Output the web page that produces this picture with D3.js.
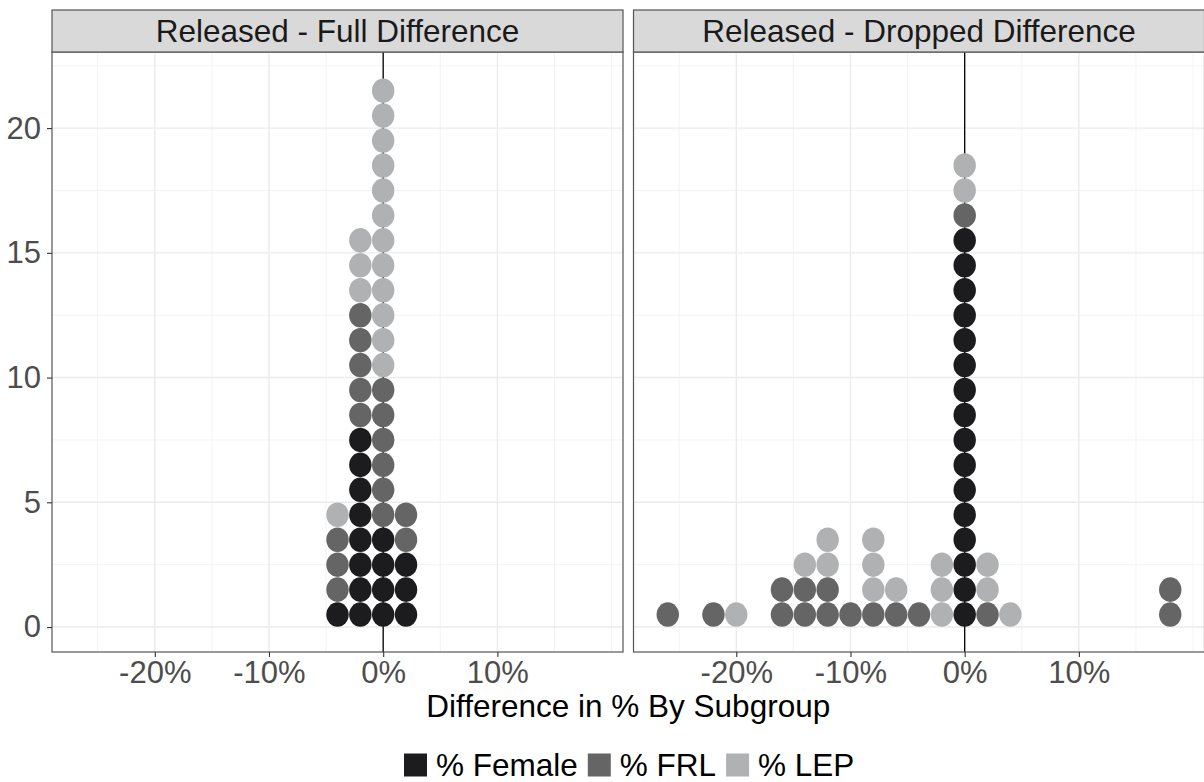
<!DOCTYPE html>
<html lang="en">
<head>
  <meta charset="UTF-8">
  <title>Released difference dot plot</title>
  <script src="https://d3js.org/d3.v7.min.js"></script>
  <style>
    body { margin: 0; background: #fff; }
    svg { display: block; font-family: "Liberation Sans", Arial, sans-serif; }
  </style>
</head>
<body>
<svg id="chart"></svg>
<script>
  const width = 1204;
  const height = 782;

  // facets and groups
  const panelTitles = ["Released - Full Difference", "Released - Dropped Difference"];
  const groups = ["% Female", "% FRL", "% LEP"];
  const groupColors = ["#1c1c1e", "#656566", "#b0b1b2"];

  // differences (in proportions) for each subgroup, one value per dot
  const fullFemale = [-0.04, -0.02, -0.02, -0.02, -0.02, -0.02, -0.02, -0.02, -0.02, 0, 0, 0, 0, 0.02, 0.02, 0.02];
  const fullFrl = [-0.04, -0.04, -0.04, -0.02, -0.02, -0.02, -0.02, -0.02, 0, 0, 0, 0, 0, 0, 0.02, 0.02];
  const fullLep = [-0.04, -0.02, -0.02, -0.02, 0, 0, 0, 0, 0, 0, 0, 0, 0, 0, 0, 0];

  const droppedFemale = [0, 0, 0, 0, 0, 0, 0, 0, 0, 0, 0, 0, 0, 0, 0, 0];
  const droppedFrl = [-0.26, -0.22, -0.16, -0.16, -0.14, -0.14, -0.12, -0.12, -0.10, -0.08, -0.06, -0.04, 0, 0.02, 0.18, 0.18];
  const droppedLep = [-0.20, -0.14, -0.12, -0.12, -0.08, -0.08, -0.08, -0.06, -0.02, -0.02, -0.02, 0, 0, 0.02, 0.02, 0.04];

  const xMajor = [-0.20, -0.10, 0, 0.10];
  const xMinor = [-0.25, -0.15, -0.05, 0.05, 0.15, 0.20];
  const yMajor = [0, 5, 10, 15, 20];
  const yMinor = [2.5, 7.5, 12.5, 17.5, 22.5];
  const binWidth = 0.02;

  const panelData = [
    [fullFemale, fullFrl, fullLep],
    [droppedFemale, droppedFrl, droppedLep]
  ];

  const svg = d3.select("#chart")
    .attr("width", width)
    .attr("height", height);

  const panelLeft = [52, 633.5];
  const panelW = 571;
  const stripTop = 10;
  const stripH = 42;
  const panelTop = stripTop + stripH;
  const panelH = 600;

  const x = d3.scaleLinear().domain([-0.29, 0.21]).range([0, panelW]);
  const y = d3.scaleLinear().domain([-1.0, 23.05]).range([panelH, 0]);

  const rx = (x(binWidth) - x(0)) / 2 - 0.2;
  const ry = (y(0) - y(1)) / 2 - 0.2;

  // stack dots per bin: Female at bottom, then FRL, then LEP
  function stackDots(series) {
    const counts = new Map();
    const dots = [];
    series.forEach((vals, gi) => {
      vals.forEach(v => {
        const bin = Math.round(v / binWidth);
        const n = counts.get(bin) || 0;
        counts.set(bin, n + 1);
        dots.push({ x: bin * binWidth, y: n + 0.5, group: gi });
      });
    });
    return dots;
  }

  panelTitles.forEach((title, pi) => {
    const g = svg.append("g")
      .attr("transform", `translate(${panelLeft[pi]},${panelTop})`);

    // grid
    g.selectAll(".xminor").data(xMinor).join("line")
      .attr("x1", d => x(d)).attr("x2", d => x(d))
      .attr("y1", 0).attr("y2", panelH)
      .attr("stroke", "#f0f0f0").attr("stroke-width", 0.8);
    g.selectAll(".yminor").data(yMinor).join("line")
      .attr("x1", 0).attr("x2", panelW)
      .attr("y1", d => y(d)).attr("y2", d => y(d))
      .attr("stroke", "#f0f0f0").attr("stroke-width", 0.8);
    g.append("g").selectAll("line").data(xMajor).join("line")
      .attr("x1", d => x(d)).attr("x2", d => x(d))
      .attr("y1", 0).attr("y2", panelH)
      .attr("stroke", "#ebebeb").attr("stroke-width", 1.4);
    g.append("g").selectAll("line").data(yMajor).join("line")
      .attr("x1", 0).attr("x2", panelW)
      .attr("y1", d => y(d)).attr("y2", d => y(d))
      .attr("stroke", "#ebebeb").attr("stroke-width", 1.4);

    // zero line
    g.append("line")
      .attr("x1", x(0)).attr("x2", x(0))
      .attr("y1", 0).attr("y2", panelH)
      .attr("stroke", "#000").attr("stroke-width", 1.3);

    // dots
    g.append("g").selectAll("ellipse")
      .data(stackDots(panelData[pi]))
      .join("ellipse")
      .attr("cx", d => x(d.x))
      .attr("cy", d => y(d.y))
      .attr("rx", rx)
      .attr("ry", ry)
      .attr("fill", d => groupColors[d.group]);

    // border
    g.append("rect")
      .attr("width", panelW).attr("height", panelH)
      .attr("fill", "none").attr("stroke", "#555").attr("stroke-width", 1.2);

    // strip
    svg.append("rect")
      .attr("x", panelLeft[pi]).attr("y", stripTop)
      .attr("width", panelW).attr("height", stripH)
      .attr("fill", "#d9d9d9").attr("stroke", "#555").attr("stroke-width", 1.2);
    svg.append("text")
      .attr("x", panelLeft[pi] + panelW / 2)
      .attr("y", stripTop + stripH / 2)
      .attr("dy", "0.36em")
      .attr("text-anchor", "middle")
      .attr("font-size", 31.5)
      .attr("fill", "#1a1a1a")
      .text(title);

    // x axis
    const xAxis = g.append("g")
      .attr("transform", `translate(0,${panelH})`)
      .call(d3.axisBottom(x).tickValues(xMajor).tickSize(5).tickPadding(4)
        .tickFormat(d => d3.format(".0f")(d * 100).replace("−", "-") + "%"));
    xAxis.select(".domain").remove();
    xAxis.selectAll("line").attr("stroke", "#333").attr("stroke-width", 1.1);
    xAxis.selectAll("text").attr("font-size", 31).attr("fill", "#4d4d4d")
      .attr("font-family", "Liberation Sans, Arial, sans-serif");

    if (pi === 0) {
      const yAxis = g.append("g")
        .call(d3.axisLeft(y).tickValues(yMajor).tickSize(5).tickPadding(6));
      yAxis.select(".domain").remove();
      yAxis.selectAll("line").attr("stroke", "#333").attr("stroke-width", 1.1);
      yAxis.selectAll("text").attr("font-size", 31).attr("fill", "#4d4d4d")
        .attr("font-family", "Liberation Sans, Arial, sans-serif");
    }
  });

  // axis title
  svg.append("text")
    .attr("x", (panelLeft[0] + panelLeft[1] + panelW) / 2)
    .attr("y", 706)
    .attr("dy", "0.36em")
    .attr("text-anchor", "middle")
    .attr("font-size", 31.5)
    .attr("fill", "#000")
    .text("Difference in % By Subgroup");

  // legend
  const legend = svg.append("g").attr("transform", "translate(0,765)");
  let lx = 404;
  groups.forEach((name, i) => {
    legend.append("rect")
      .attr("x", lx).attr("y", -11.5)
      .attr("width", 23).attr("height", 23)
      .attr("fill", groupColors[i]);
    const t = legend.append("text")
      .attr("x", lx + 32)
      .attr("dy", "0.36em")
      .attr("font-size", 31.5)
      .attr("fill", "#000")
      .text(name);
    lx += 32 + t.node().getComputedTextLength() + 10;
  });
</script>
</body>
</html>
